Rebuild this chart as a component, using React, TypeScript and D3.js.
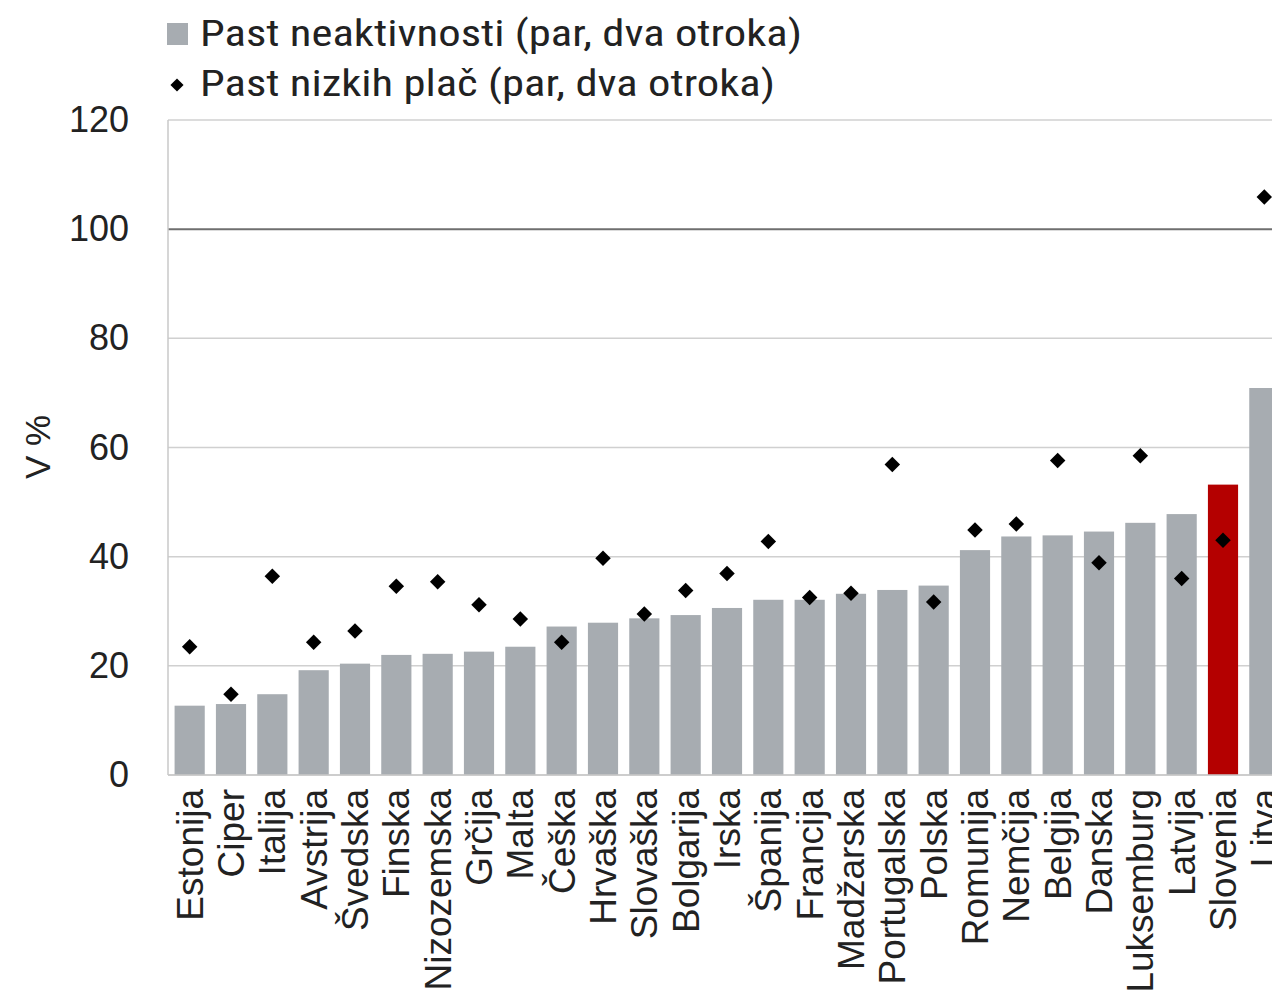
import { scaleBand, scaleLinear, symbol, symbolSquare } from 'd3';

const countries = [
  'Estonija', 'Ciper', 'Italija', 'Avstrija', 'Švedska', 'Finska', 'Nizozemska',
  'Grčija', 'Malta', 'Češka', 'Hrvaška', 'Slovaška', 'Bolgarija', 'Irska',
  'Španija', 'Francija', 'Madžarska', 'Portugalska', 'Polska', 'Romunija',
  'Nemčija', 'Belgija', 'Danska', 'Luksemburg', 'Latvija', 'Slovenia', 'Litva',
];

// Past neaktivnosti (bars)
const inactivityTrap = [
  12.7, 13.0, 14.8, 19.2, 20.4, 22.0, 22.2, 22.6, 23.5, 27.2, 27.9, 28.7, 29.3, 30.6,
  32.1, 32.1, 33.2, 33.9, 34.7, 41.2, 43.7, 43.9, 44.6, 46.2, 47.8, 53.2, 70.9,
];

// Past nizkih plač (diamonds)
const lowWageTrap = [
  23.5, 14.8, 36.4, 24.3, 26.4, 34.6, 35.4, 31.2, 28.6, 24.3, 39.7, 29.5, 33.8, 36.9,
  42.8, 32.5, 33.3, 56.9, 31.7, 44.9, 46.0, 57.6, 38.9, 58.5, 36.0, 43.0, 105.9,
];

const yTicks = [0, 20, 40, 60, 80, 100, 120];
const highlight = 'Slovenia';

const width = 1272;
const height = 1008;
const plot = { left: 168, right: 1285, top: 120, bottom: 775 };

const barGrey = '#a7acb1';
const barRed = '#b40000';
const labelFont = 'Liberation Sans, Arial, sans-serif';
const legendFont = '"Liberation Sans Narrow", "Roboto Condensed", "Arial Narrow", "Liberation Sans", sans-serif';

export default function App() {
  const x = scaleBand<string>()
    .domain(countries)
    .range([plot.left + 1, plot.right])
    .paddingInner(0.27)
    .paddingOuter(0.135);

  const y = scaleLinear().domain([0, 120]).range([plot.bottom, plot.top]);

  const diamond = symbol().type(symbolSquare).size(120)() ?? '';

  return (
    <svg
      width={width}
      height={height}
      style={{ position: 'absolute', left: 0, top: 0, background: '#fff' }}
      fontFamily={labelFont}
    >
      {/* gridlines */}
      {yTicks.map(t => (
        <line
          key={t}
          x1={plot.left}
          x2={width}
          y1={y(t)}
          y2={y(t)}
          stroke={t === 100 ? '#6f6f6f' : '#d0d0d0'}
          strokeWidth={t === 100 ? 2 : 1.5}
        />
      ))}
      <line x1={plot.left} x2={plot.left} y1={plot.top} y2={plot.bottom} stroke="#c8c8c8" strokeWidth={1.5} />

      {/* bars */}
      {countries.map((c, i) => (
        <rect
          key={c}
          x={x(c)}
          y={y(inactivityTrap[i])}
          width={x.bandwidth()}
          height={y(0) - y(inactivityTrap[i])}
          fill={c === highlight ? barRed : barGrey}
        />
      ))}
      <line x1={plot.left} x2={width} y1={plot.bottom} y2={plot.bottom} stroke="#c8c8c8" strokeWidth={1.5} />

      {/* diamonds */}
      {countries.map((c, i) => (
        <path
          key={c}
          d={diamond}
          transform={`translate(${(x(c) ?? 0) + x.bandwidth() / 2},${y(lowWageTrap[i])}) rotate(45)`}
          fill="#000"
        />
      ))}

      {/* y ticks */}
      {yTicks.map(t => (
        <text key={t} x={129} y={y(t) + 12} textAnchor="end" fontSize={36} fill="#222">
          {t}
        </text>
      ))}
      <text transform="translate(50,447) rotate(-90)" textAnchor="middle" fontSize={35} fill="#222">
        V %
      </text>

      {/* x labels */}
      {countries.map(c => (
        <text
          key={c}
          transform={`translate(${(x(c) ?? 0) + x.bandwidth() / 2 + 13},${plot.bottom + 14}) rotate(-90)`}
          textAnchor="end"
          fontSize={37}
          fill="#222"
        >
          {c}
        </text>
      ))}

      {/* legend */}
      <rect x={167} y={23} width={21} height={22} fill={barGrey} />
      <text x={200} y={46} fontSize={37} fontFamily={legendFont} fill="#222" textLength={602} lengthAdjust="spacingAndGlyphs">
        Past neaktivnosti (par, dva otroka)
      </text>
      <path d={diamond} transform="translate(177,85) rotate(45) scale(0.85)" fill="#000" />
      <text x={200} y={96} fontSize={37} fontFamily={legendFont} fill="#222" textLength={575} lengthAdjust="spacingAndGlyphs">
        Past nizkih plač (par, dva otroka)
      </text>
    </svg>
  );
}
